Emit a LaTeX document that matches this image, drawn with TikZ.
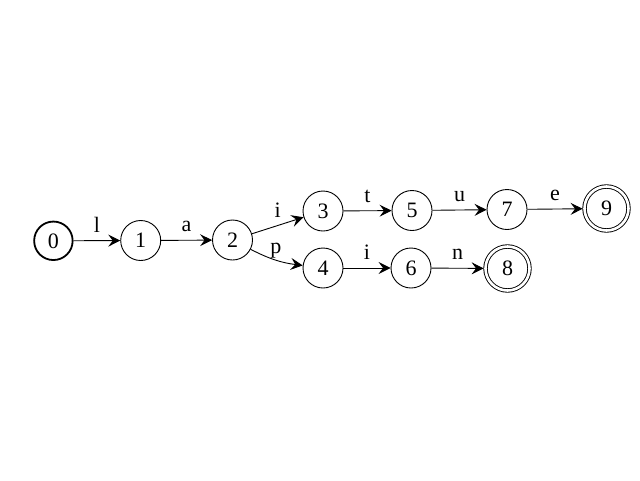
\documentclass[tikz,border=0pt]{standalone}
\usepackage{fontspec}
\setmainfont{Liberation Serif}
\usetikzlibrary{arrows.meta}
\begin{document}
\begin{tikzpicture}[x=1pt,y=-1pt,
  every node/.style={font=\fontsize{22pt}{26pt}\selectfont},
  st/.style={circle, draw, line width=0.9pt, minimum size=40pt, inner sep=0pt},
  initst/.style={st, line width=1.8pt, minimum size=38.5pt},
  acc/.style={circle, draw, line width=0.9pt, double, double distance=2.6pt, minimum size=44pt, inner sep=0pt, outer sep=1.9pt},
  tr/.style={line width=0.9pt, -{Stealth[length=12pt,width=12pt,inset=4.5pt]}},
  lbl/.style={anchor=base, yshift=8.5pt, inner sep=0pt}]
\useasboundingbox (0,0) rectangle (640,480);
\node[initst] (n0) at (53.4,240.8) {0};
\node[st] (n1) at (140.7,240.5) {1};
\node[st] (n2) at (232.5,240) {2};
\node[st] (n3) at (323,211) {3};
\node[st] (n4) at (323,268) {4};
\node[st] (n5) at (412,210.5) {5};
\node[st] (n6) at (411,268) {6};
\node[st] (n7) at (507,209.5) {7};
\node[acc] (n8) at (507.5,268.5) {8};
\node[acc] (n9) at (606.5,208.5) {9};
\draw[tr] (n0) -- node[lbl] (l01) {l} (n1);
\draw[tr] (n1) -- node[lbl] (l12) {a} (n2);
\draw[tr] (n2) -- node[lbl] (l23) {i} (n3);
\draw[tr] (n2) to[bend right=10] node[lbl, yshift=-1.5pt] (l24) {p} (n4);
\draw[tr] (n3) -- node[lbl] (l35) {t} (n5);
\draw[tr] (n5) -- node[lbl] (l57) {u} (n7);
\draw[tr] (n7) -- node[lbl] (l79) {e} (n9);
\draw[tr] (n4) -- node[lbl] (l46) {i} (n6);
\draw[tr] (n6) -- node[lbl] (l68) {n} (n8);
\end{tikzpicture}
\end{document}
